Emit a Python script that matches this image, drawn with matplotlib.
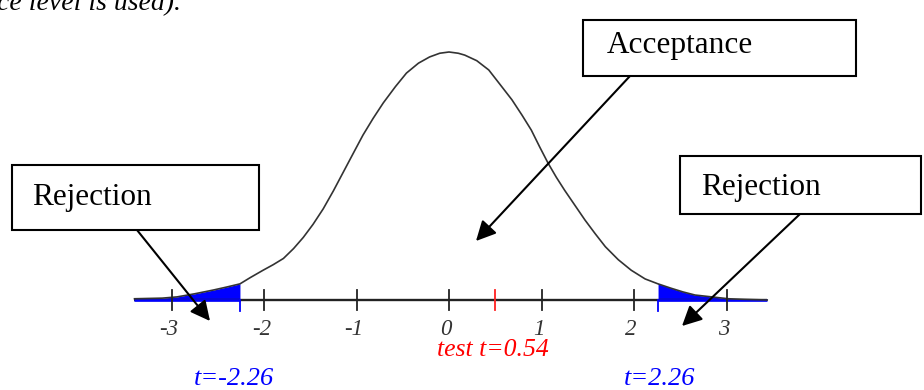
import numpy as np
import matplotlib
matplotlib.use('Agg')
import matplotlib.pyplot as plt
from matplotlib.patches import Rectangle

plt.rcParams['font.family'] = ['Liberation Serif', 'DejaVu Serif']

# curve: t value and density
t_vals = [-3.40, -3.10, -2.94, -2.75, -2.55, -2.40, -2.26, -2.15, -2.01, -1.90,
          -1.79, -1.68, -1.575, -1.47, -1.36, -1.25, -1.14, -1.03, -0.93, -0.82,
          -0.71, -0.58, -0.46, -0.33, -0.21, -0.10, 0.0,
          0.10, 0.17, 0.30, 0.43, 0.55, 0.68, 0.79, 0.89, 0.98, 1.07,
          1.16, 1.25, 1.36, 1.47, 1.58, 1.69, 1.83, 1.97, 2.12, 2.26,
          2.40, 2.53, 2.66, 2.84, 3.02, 3.20, 3.44]
dens = [0.002, 0.003, 0.005, 0.010, 0.016, 0.021, 0.026, 0.036, 0.048, 0.057,
        0.067, 0.083, 0.101, 0.122, 0.147, 0.176, 0.207, 0.238, 0.266, 0.293,
        0.318, 0.344, 0.366, 0.382, 0.392, 0.398, 0.400,
        0.398, 0.395, 0.386, 0.371, 0.348, 0.323, 0.298, 0.274, 0.247, 0.221,
        0.198, 0.177, 0.153, 0.129, 0.107, 0.086, 0.065, 0.048, 0.034, 0.026,
        0.019, 0.013, 0.008, 0.005, 0.002, 0.001, 0.000]

ticks = [-3, -2, -1, 0, 1, 2, 3]
tick_labels = ['-3', '-2', '-1', '0', '1', '2', '3']
t_crit = 2.26
test_t = 0.54
test_tick = 0.50
axis_range = (-3.41, 3.44)

# pixel -> data helpers (layout of the figure)
PX_PER_T = 92.5
PX_PER_D = 248 / 0.4
def X(px):
    return (px - 449) / PX_PER_T
def Y(py):
    return (300 - py) / PX_PER_D

fig = plt.figure(figsize=(9.24, 3.9), dpi=100)
ax = fig.add_axes([0, 0, 1, 1])
ax.set_xlim(X(0), X(924))
ax.set_ylim(Y(390), Y(0))
ax.axis('off')

t = np.array(t_vals)
d = np.array(dens)

# rejection tails
left = t <= -t_crit
right = t >= t_crit
ax.fill_between(t[left], 0, d[left], color='#0000ff', lw=0)
ax.fill_between(t[right], 0, d[right], color='#0000ff', lw=0)

# axis line
ax.plot(axis_range, [0, 0], color='#222222', lw=1.7, solid_capstyle='butt')
ax.plot([axis_range[0], -t_crit], [0, 0], color='#0000ff', lw=1.9, solid_capstyle='butt')
ax.plot([t_crit, axis_range[1]], [0, 0], color='#0000ff', lw=1.9, solid_capstyle='butt')

# curve
ax.plot(t, d, color='#333333', lw=1.2)

tk = 10 / PX_PER_D
for v, lab in zip(ticks, tick_labels):
    ax.plot([v, v], [-tk, tk], color='#222222', lw=1.3)
    ax.text(v - 0.03, Y(335), lab, ha='center', va='baseline', style='italic',
            fontsize=16.5, color='#333333')

ax.plot([-t_crit, -t_crit], [-tk * 1.1, 0], color='#0000ff', lw=1.3)
ax.plot([t_crit, t_crit], [-tk * 1.1, 0], color='#0000ff', lw=1.3)
ax.plot([test_tick, test_tick], [-tk, tk], color='#ff2020', lw=1.3)

ax.text(X(493), Y(356), 'test t=%.2f' % test_t, ha='center', va='baseline',
        style='italic', fontsize=18.5, color='#ff0000')
ax.text(X(234), Y(385), 't=-%.2f' % t_crit, ha='center', va='baseline',
        style='italic', fontsize=19, color='#0000ff')
ax.text(X(660), Y(385), 't=%.2f' % t_crit, ha='center', va='baseline',
        style='italic', fontsize=19, color='#0000ff')

# cut off sentence at top
ax.text(X(-3), Y(10), 'ce level is used).', ha='left', va='baseline',
        style='italic', fontsize=20, color='black')

# boxes with labels
boxes = [
    (583, 20, 856, 76, 'Acceptance', 607, 53),
    (12, 165, 259, 230, 'Rejection', 32, 205),
    (680, 156, 921, 214, 'Rejection', 701, 195),
]
for x0, y0, x1, y1, lab, tx, ty in boxes:
    ax.add_patch(Rectangle((X(x0), Y(y1)), X(x1) - X(x0), Y(y0) - Y(y1),
                           facecolor='white', edgecolor='black', lw=1.5, zorder=5))
    ax.text(X(tx), Y(ty), lab, ha='left', va='baseline', fontsize=22.5,
            color='black', zorder=6)

# arrows
arrows = [((630, 76), (476, 241)), ((137, 230), (210, 321)), ((800, 214), (682, 326))]
for (sx, sy), (ex, ey) in arrows:
    ax.annotate('', xy=(X(ex), Y(ey)), xytext=(X(sx), Y(sy)),
                arrowprops=dict(arrowstyle='-|>', color='black', lw=1.5,
                                mutation_scale=30, shrinkA=0, shrinkB=0),
                zorder=4)

fig.savefig('out.png', dpi=100)
